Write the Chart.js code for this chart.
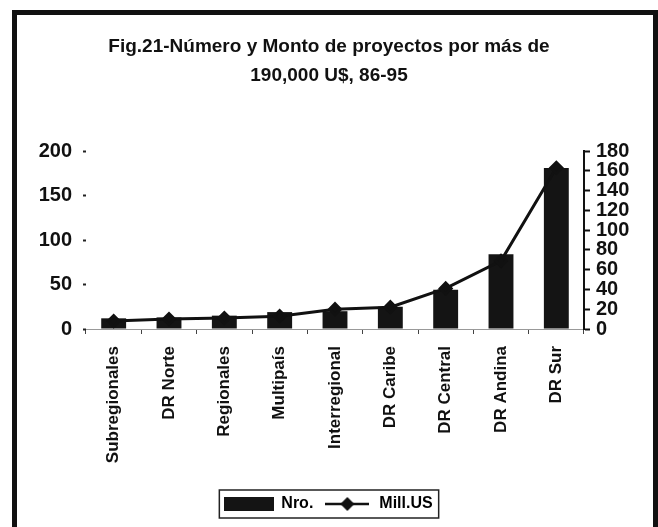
<!DOCTYPE html>
<html>
<head>
<meta charset="utf-8">
<script src="https://cdn.jsdelivr.net/npm/chart.js@4/dist/chart.umd.min.js"></script>
<style>
    html, body { margin: 0; padding: 0; background: #fff; overflow: hidden; }
    #frame {
        position: absolute; left: 12px; top: 10px; width: 646px; height: 560px;
        box-sizing: border-box; border: 5px solid #111;
    }
    #chart { position: absolute; left: 0; top: 0; }
</style>
</head>
<body>
<div id="frame"></div>
<canvas id="chart" width="658" height="527"></canvas>
<script>
var categories = ["Subregionales", "DR Norte", "Regionales", "Multipaís", "Interregional",
                  "DR Caribe", "DR Central", "DR Andina", "DR Sur"];
var nroValues = [12, 13, 15, 19, 20, 25, 44, 84, 181];
var millValues = [8, 10, 11, 13, 20, 22, 41, 69, 163];
var leftTicks = [0, 50, 100, 150, 200];
var rightTicks = [0, 20, 40, 60, 80, 100, 120, 140, 160, 180];
var titleLines = ["Fig.21-Número y Monto de proyectos por más de", "190,000 U$, 86-95"];

var FONT = "'Liberation Sans', Arial, sans-serif";
var INK = "#111";

// little pictures used as legend symbols
function barSymbol() {
    var c = document.createElement("canvas");
    c.width = 50; c.height = 16;
    var g = c.getContext("2d");
    g.fillStyle = "#141414";
    g.fillRect(0, 1, 50, 14);
    return c;
}
function lineSymbol() {
    var c = document.createElement("canvas");
    c.width = 44; c.height = 16;
    var g = c.getContext("2d");
    g.strokeStyle = INK;
    g.lineWidth = 2.5;
    g.beginPath(); g.moveTo(0, 8); g.lineTo(44, 8); g.stroke();
    g.fillStyle = INK;
    g.beginPath(); g.moveTo(22, 1); g.lineTo(29, 8); g.lineTo(22, 15); g.lineTo(15, 8); g.closePath(); g.fill();
    return c;
}

var legendBorder = {
    id: "legendBorder",
    afterDraw: function (chart) {
        var boxes = chart.legend && chart.legend.legendHitBoxes;
        if (!boxes || !boxes.length) return;
        var l = Infinity, r = -Infinity, t = Infinity, b = -Infinity;
        boxes.forEach(function (h) {
            l = Math.min(l, h.left); r = Math.max(r, h.left + h.width);
            t = Math.min(t, h.top); b = Math.max(b, h.top + h.height);
        });
        var ctx = chart.ctx;
        ctx.save();
        ctx.strokeStyle = "#222";
        ctx.lineWidth = 1.5;
        ctx.strokeRect(l - 6, t - 6, r - l + 12, b - t + 12);
        ctx.restore();
    }
};

var ctx = document.getElementById("chart").getContext("2d");

new Chart(ctx, {
    data: {
        labels: categories,
        datasets: [{
            type: "line",
            label: "Mill.US",
            data: millValues,
            yAxisID: "y1",
            order: 0,
            borderColor: INK,
            backgroundColor: INK,
            borderWidth: 3,
            pointStyle: "rectRot",
            pointRadius: 5.5,
            pointBackgroundColor: INK,
            pointBorderColor: INK,
            tension: 0
        }, {
            type: "bar",
            label: "Nro.",
            data: nroValues,
            yAxisID: "y",
            order: 1,
            backgroundColor: "#141414",
            borderWidth: 0,
            categoryPercentage: 1,
            barPercentage: 0.45
        }]
    },
    options: {
        responsive: false,
        animation: false,
        layout: { padding: { top: 20, left: 26, right: 26, bottom: 5 } },
        plugins: {
            tooltip: { enabled: false },
            title: {
                display: true,
                text: titleLines,
                color: INK,
                font: { family: FONT, size: 19, weight: "bold", lineHeight: 1.5 },
                padding: { top: 13, bottom: 61 }
            },
            legend: {
                position: "bottom",
                labels: {
                    usePointStyle: true,
                    pointStyleWidth: 48,
                    boxHeight: 16,
                    padding: 10,
                    color: INK,
                    font: { family: FONT, size: 16, weight: "bold" },
                    generateLabels: function () {
                        return [
                            { text: "Nro.", pointStyle: barSymbol(), fillStyle: "#141414", strokeStyle: "#141414", lineWidth: 0, hidden: false, datasetIndex: 1 },
                            { text: "Mill.US", pointStyle: lineSymbol(), fillStyle: INK, strokeStyle: INK, lineWidth: 0, hidden: false, datasetIndex: 0 }
                        ];
                    }
                }
            }
        },
        scales: {
            x: {
                offset: true,
                afterFit: function (s) { s.height = 157; },
                border: { display: true, color: "#999", width: 1 },
                grid: { offset: true, drawOnChartArea: false, drawTicks: true, tickLength: 5, tickColor: "#444" },
                ticks: {
                    color: INK,
                    minRotation: 90,
                    maxRotation: 90,
                    autoSkip: false,
                    padding: 12,
                    font: { family: FONT, size: 17, weight: "bold" }
                }
            },
            y: {
                position: "left",
                min: 0,
                max: 200,
                afterFit: function (s) { s.width = 60; },
                afterBuildTicks: function (s) { s.ticks = leftTicks.map(function (v) { return { value: v }; }); },
                border: { display: false },
                grid: { drawOnChartArea: false, tickLength: 3, tickWidth: 2, tickColor: "#222" },
                ticks: {
                    color: INK,
                    padding: 11,
                    autoSkip: false,
                    font: { family: FONT, size: 20, weight: "bold" }
                }
            },
            y1: {
                position: "right",
                min: 0,
                max: 180,
                afterFit: function (s) { s.width = 48; },
                afterBuildTicks: function (s) { s.ticks = rightTicks.map(function (v) { return { value: v }; }); },
                border: { display: true, color: INK, width: 2 },
                grid: { drawOnChartArea: false, tickLength: 6, tickWidth: 2, tickColor: INK },
                ticks: {
                    color: INK,
                    padding: 6,
                    autoSkip: false,
                    font: { family: FONT, size: 20, weight: "bold" }
                }
            }
        }
    },
    plugins: [legendBorder]
});
</script>
</body>
</html>
